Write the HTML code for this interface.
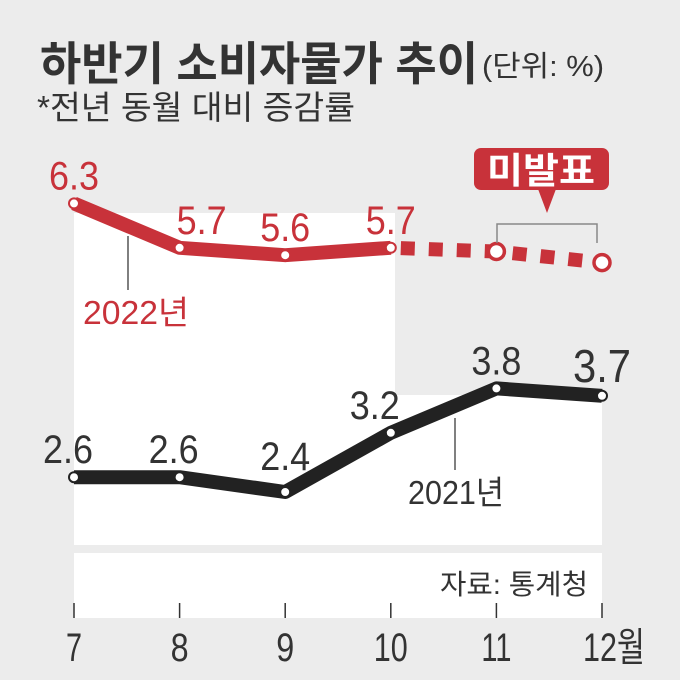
<!DOCTYPE html>
<html><head><meta charset="utf-8"><style>
html,body{margin:0;padding:0;background:#ececec;}
svg{display:block;font-family:"Liberation Sans","Noto Sans CJK KR",sans-serif;}
</style></head><body>
<svg id="chart" width="680" height="680" viewBox="0 0 680 680">
  <rect x="0" y="0" width="680" height="680" fill="#ececec"/>
  <text x="40" y="80" font-size="46" font-weight="bold" fill="#333" textLength="438" lengthAdjust="spacingAndGlyphs">하반기 소비자물가 추이</text>
  <text x="482" y="76" font-size="29" fill="#333" textLength="122" lengthAdjust="spacingAndGlyphs">(단위: %)</text>
  <text x="37" y="119" font-size="33" fill="#333" textLength="318" lengthAdjust="spacingAndGlyphs">*전년 동월 대비 증감률</text>
  <polygon points="74,213 395,213 395,395 602,395 602,545 74,545" fill="#fff"/>
  <rect x="74" y="553" width="528" height="65" fill="#fff"/>
  <text x="588" y="594" font-size="28" fill="#333" text-anchor="end" textLength="148" lengthAdjust="spacingAndGlyphs">자료: 통계청</text>
  <g id="ticks"></g>
  <g id="marks"></g>
  <g>
    <rect x="474" y="148" width="135" height="42" rx="7" fill="#c8323a"/>
    <polygon points="538,189 556,189 547,213" fill="#c8323a"/>
    <text x="541" y="183" font-size="36" font-weight="bold" fill="#fff" text-anchor="middle" textLength="108" lengthAdjust="spacingAndGlyphs">미발표</text>
    <polyline points="497,243 497,224 597,224 597,243" fill="none" stroke="#888" stroke-width="1.5"/>
  </g>
  <line x1="128" y1="236" x2="128" y2="290" stroke="#555" stroke-width="1.5"/>
  <text x="83" y="324" font-size="33" fill="#c8323a" textLength="106" lengthAdjust="spacingAndGlyphs">2022년</text>
  <line x1="455" y1="418" x2="455" y2="470" stroke="#555" stroke-width="1.5"/>
  <text x="408" y="504" font-size="33" fill="#333" textLength="96" lengthAdjust="spacingAndGlyphs">2021년</text>
</svg>
<script>
const months = ["7","8","9","10","11","12월"];
const values2021 = [2.6, 2.6, 2.4, 3.2, 3.8, 3.7];
const values2022 = [6.3, 5.7, 5.6, 5.7];
const unreleased2022 = [5.65, 5.5];
const NS = "http://www.w3.org/2000/svg";
const xPos = i => 74 + i * 105.6;
const yPos = v => 492 - (v - 2.4) * 74;
function mk(tag, attrs, parent){const e=document.createElementNS(NS,tag);for(const k in attrs)e.setAttribute(k,attrs[k]);parent.appendChild(e);return e;}
const ticks = document.getElementById('ticks');
const marks = document.getElementById('marks');
const tickW = [16,18,18,34,30,62];
months.forEach((m,i)=>{
  const t = mk('line',{x1:xPos(i),x2:xPos(i),y1:603,y2:618,stroke:'#333','stroke-width':1.5},ticks);
  
  
  const lb = mk('text',{x:xPos(i)+(i===5?12:0),y:661,'font-size':40,fill:'#333','text-anchor':'middle',textLength:tickW[i],lengthAdjust:'spacingAndGlyphs'},ticks);
  lb.textContent = m;
  
  
});
const p22 = values2022.map((v,i)=>xPos(i)+','+yPos(v)).join(' ');
const l22 = mk('polyline',{points:p22,fill:'none',stroke:'#c8323a','stroke-width':14,'stroke-linejoin':'round'},marks);


const all22 = values2022.concat(unreleased2022);
const pd = all22.slice(3).map((v,j)=>xPos(j+3)+','+yPos(v)).join(' ');
const ld = mk('polyline',{points:pd,fill:'none',stroke:'#c8323a','stroke-width':14,'stroke-dasharray':'14 14','stroke-dashoffset':'-10'},marks);


const p21 = values2021.map((v,i)=>xPos(i)+','+yPos(v)).join(' ');
const l21 = mk('polyline',{points:p21,fill:'none',stroke:'#222','stroke-width':14,'stroke-linejoin':'round'},marks);


function dot(x,y,color,name){
  const c = mk('circle',{cx:x,cy:y,r:5,fill:'#fff',stroke:color,'stroke-width':2},marks);
  
  
}
values2022.forEach((v,i)=>dot(xPos(i),yPos(v),'#c8323a','point-2022'));
unreleased2022.forEach((v,j)=>{
  const c = mk('circle',{cx:xPos(j+4),cy:yPos(v),r:8,fill:'#fff',stroke:'#c8323a','stroke-width':3.5},marks);
  
  
});
values2021.forEach((v,i)=>dot(xPos(i),yPos(v),'#222','point-2021'));
function lab(x,y,txt,color,name,sz,w){
  const t = mk('text',{x:x,y:y,'font-size':sz,fill:color,'text-anchor':'middle',textLength:w,lengthAdjust:'spacingAndGlyphs'},marks);
  t.textContent = txt;
  
  
}
const off22=[[0,-14],[22,-14],[0,-14],[0,-14]];
values2022.forEach((v,i)=>lab(xPos(i)+off22[i][0],yPos(v)+off22[i][1],v.toFixed(1),'#c8323a','value-label-2022',40,50));
const off21=[[-6,-14],[-6,-14],[0,-22],[-16,-14],[0,-14],[0,-14]];
values2021.forEach((v,i)=>lab(xPos(i)+off21[i][0],yPos(v)+off21[i][1],v.toFixed(1),'#333','value-label-2021',i===5?46:40,i===5?58:50));
</script>
</body></html>
